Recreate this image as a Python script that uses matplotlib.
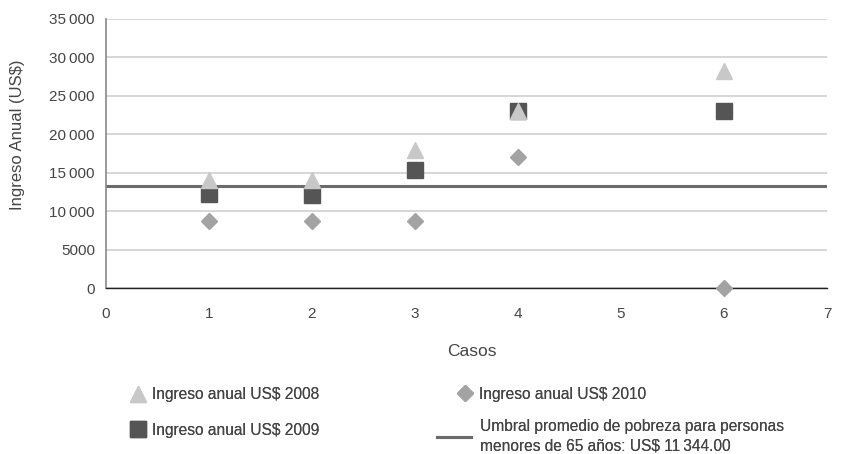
import matplotlib
matplotlib.use("Agg")
import matplotlib.pyplot as plt
from matplotlib.ticker import FuncFormatter, MultipleLocator
from matplotlib.lines import Line2D

plt.rcParams['font.family'] = ['Liberation Sans', 'DejaVu Sans']

casos = [1, 2, 3, 4, 6]
ingreso_2008 = [14000, 14000, 18000, 23000, 28200]
ingreso_2009 = [12200, 12100, 15400, 23000, 23000]
ingreso_2010 = [8700, 8700, 8700, 17100, 0]
umbral = 13300

labels = ["Ingreso anual US$ 2008", "Ingreso anual US$ 2009",
          "Ingreso anual US$ 2010",
          "Umbral promedio de pobreza para personas\nmenores de 65 años: US$ 11\u2009344.00"]

text_col = '#454545'
c08, c09, c10, cu = '#c8c8c8', '#555555', '#a3a3a3', '#6b6b6b'
fig = plt.figure(figsize=(8.46, 4.54), dpi=100)
ax = fig.add_axes([106/846, 1-288/454, (827-106)/846, (288-19)/454])

ax.set_xlim(0, 7)
ax.set_ylim(0, 35000)
ax.yaxis.set_major_locator(MultipleLocator(5000))
ax.xaxis.set_major_locator(MultipleLocator(1))
ax.yaxis.grid(True, color='#cfcfcf', linewidth=1.2)
ax.set_axisbelow(True)

def fmt(v, p):
    v = int(round(v))
    if v >= 10000:
        return f"{v//1000}\u2009{v%1000:03d}"
    return str(v)
ax.yaxis.set_major_formatter(FuncFormatter(fmt))

ax.axhline(umbral, color=cu, linewidth=2.2, zorder=2)
ax.plot(casos, ingreso_2010, 'D', color=c10, markersize=8, linestyle='none', zorder=3, clip_on=False)
ax.plot(casos, ingreso_2009, 's', color=c09, markersize=11.5, linestyle='none', zorder=4)
ax.plot(casos, ingreso_2008, '^', color=c08, markersize=11, linestyle='none', zorder=5)

for s in ['top', 'right']:
    ax.spines[s].set_visible(False)
ax.spines['left'].set_color('#888888')
ax.spines['left'].set_linewidth(1.2)
ax.spines['bottom'].set_color('#222222')
ax.spines['bottom'].set_linewidth(1.0)
ax.tick_params(length=0, labelsize=11, colors=text_col)
ax.tick_params(axis='y', pad=8)
ax.tick_params(axis='x', pad=14)

ax.set_xlabel("Casos", fontsize=12.5, color=text_col)
ax.set_ylabel("Ingreso Anual (US$)", fontsize=12, color=text_col)
ax.xaxis.set_label_coords((472-106)/721, (288-344)/269)
ax.yaxis.set_label_coords((25-106)/721, (288-135)/269)

h1 = Line2D([], [], marker='^', color=c08, linestyle='none', markersize=11)
h2 = Line2D([], [], marker='s', color=c09, linestyle='none', markersize=11.5)
h3 = Line2D([], [], marker='D', color=c10, linestyle='none', markersize=8)
h4 = Line2D([], [], color=cu, linewidth=2.2)

FS = 11.2
def add_leg(h, lab, x, y, hl, pad, ls=None):
    lg = fig.legend([h], [lab], loc='center left', bbox_to_anchor=(x/846, 1-y/454),
                    frameon=False, fontsize=FS, labelcolor=text_col, handlelength=hl,
                    handletextpad=pad, borderaxespad=0, borderpad=0)
    if ls:
        lg.get_texts()[0].set_linespacing(ls)
    fig.add_artist(lg)
    return lg

px = FS * 100 / 72
add_leg(h1, labels[0], 130, 395, 15/px, 7/px)
add_leg(h2, labels[1], 130, 430, 15/px, 7/px)
add_leg(h3, labels[2], 457, 394, 15/px, 7/px)
add_leg(h4, labels[3], 437, 436, 34/px, 9/px, ls=1.4)

fig.savefig("out.png", dpi=100)
